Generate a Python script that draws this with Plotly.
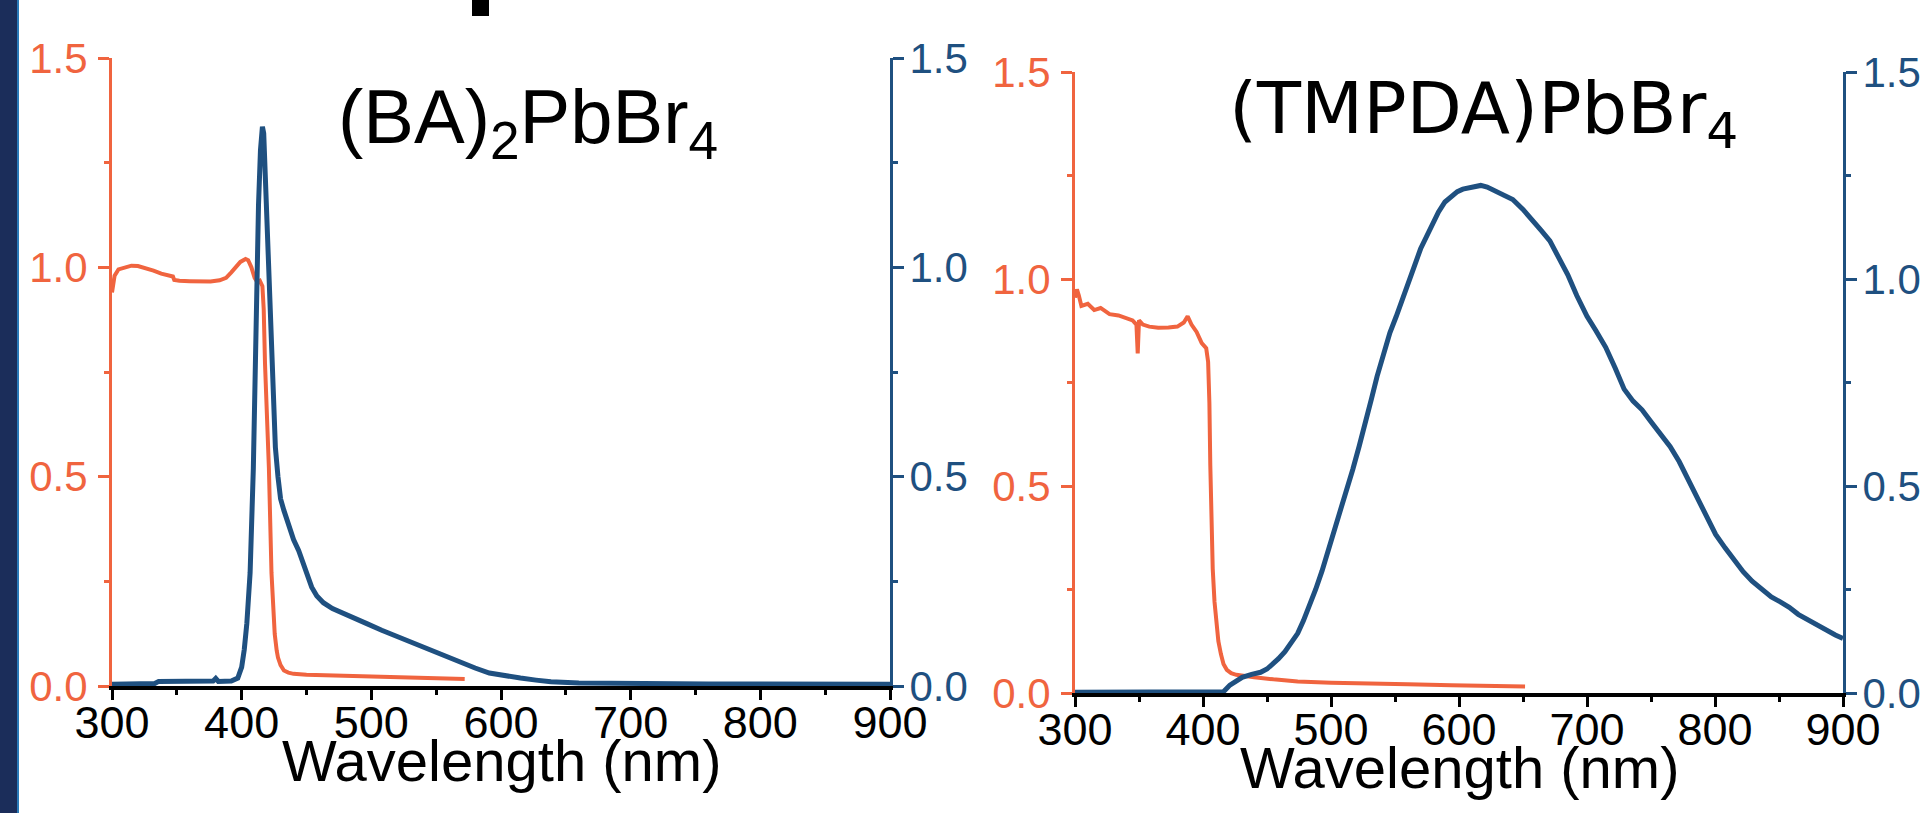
import plotly.graph_objects as go

# ---------------- data ----------------
# (BA)2PbBr4 absorption (left axis)
ba_abs_wl = [300, 302, 305, 310, 315, 320, 326, 332, 338, 344, 347, 348, 352, 360, 369, 376,
             383, 388, 392, 396, 399, 403, 405, 407.5, 410, 412, 414, 416, 417, 418, 419.5,
             421, 423, 424.5, 425.5, 427, 428, 430, 432.6, 436, 440, 450, 473, 500, 520, 545, 572]
ba_abs = [0.94, 0.98, 0.995, 1.0, 1.004, 1.003, 0.998, 0.992, 0.985, 0.98, 0.978, 0.97, 0.968,
          0.967, 0.966, 0.966, 0.969, 0.975, 0.988, 1.003, 1.013, 1.02, 1.017, 1.0, 0.975, 0.965,
          0.968, 0.955, 0.9, 0.77, 0.64, 0.52, 0.27, 0.17, 0.124, 0.085, 0.068, 0.05, 0.037,
          0.032, 0.029, 0.027, 0.025, 0.023, 0.021, 0.019, 0.017]

# (BA)2PbBr4 photoluminescence (right axis)
ba_pl_wl = [300, 320, 333, 336, 350, 365, 378, 380, 382, 392, 397, 400, 402, 404, 406.5, 409,
            411, 413, 414.5, 416, 417, 418, 419.5, 421, 423, 424.5, 426, 428, 430, 432.5, 435,
            440, 444, 449, 454, 458, 463, 470, 477.5, 487, 496.5, 508, 520, 532, 544, 556,
            567.5, 580, 591, 603, 615, 627, 638.5, 660, 686, 720, 760, 800, 850, 900]
ba_pl = [0.004, 0.005, 0.006, 0.011, 0.011, 0.010, 0.012, 0.018, 0.011, 0.012, 0.019, 0.045,
         0.087, 0.15, 0.27, 0.52, 0.89, 1.15, 1.28, 1.336, 1.32, 1.23, 1.12, 1.02, 0.77, 0.65,
         0.57, 0.50, 0.447, 0.42, 0.395, 0.35, 0.323, 0.28, 0.236, 0.215, 0.199, 0.185, 0.174,
         0.162, 0.149, 0.133, 0.118, 0.102, 0.087, 0.071, 0.056, 0.043, 0.031, 0.024, 0.019,
         0.014, 0.010, 0.007, 0.006, 0.005, 0.005, 0.005, 0.004, 0.004]

# (TMPDA)PbBr4 absorption (left axis)
tm_abs_wl = [300, 301.5, 303, 305, 310, 315, 320, 327, 334, 340, 345, 348, 349, 350, 353, 358,
             365, 373, 380, 385, 388, 391, 395, 399, 402.5, 404, 405, 405.7, 406.5, 407.6, 409,
             410.5, 412, 414, 416, 418.6, 422, 426, 433, 440, 455, 474, 500, 522, 560, 594,
             625, 651.6]
tm_abs = [0.955, 0.975, 0.96, 0.935, 0.94, 0.925, 0.93, 0.915, 0.912, 0.905, 0.90, 0.89, 0.82,
          0.90, 0.89, 0.885, 0.882, 0.883, 0.885, 0.895, 0.91, 0.89, 0.872, 0.845, 0.833, 0.80,
          0.70, 0.55, 0.42, 0.30, 0.22, 0.17, 0.125, 0.094, 0.07, 0.056, 0.048, 0.044, 0.04,
          0.038, 0.033, 0.028, 0.025, 0.023, 0.021, 0.019, 0.018, 0.016]

# (TMPDA)PbBr4 photoluminescence (right axis)
tm_pl_wl = [300, 350, 400, 416, 421, 426, 430.6, 438, 445, 450, 454.6, 459, 464, 469, 474,
            478.5, 483.5, 488, 493, 498, 502.7, 507, 512, 517, 522, 526.5, 531.5, 536, 541,
            546, 551, 556, 560.6, 565, 570, 575, 579.5, 584, 589, 594, 598.7, 603, 608, 612,
            617, 622, 627.6, 635, 642, 650, 656.7, 664, 671, 678, 685, 692, 700, 707, 714.6,
            722, 729, 736, 743, 750, 757, 765, 772, 779, 786, 793, 800.5, 808, 815, 822, 829,
            837, 844, 851, 858, 865, 872.6, 880, 887, 894, 900]
tm_pl = [0.002, 0.002, 0.002, 0.003, 0.019, 0.03, 0.038, 0.045, 0.05, 0.058, 0.069, 0.083,
         0.10, 0.12, 0.144, 0.175, 0.213, 0.25, 0.295, 0.345, 0.395, 0.44, 0.483, 0.54, 0.596,
         0.655, 0.709, 0.765, 0.822, 0.87, 0.91, 0.95, 0.99, 1.03, 1.073, 1.105, 1.136, 1.162,
         1.186, 1.20, 1.211, 1.217, 1.221, 1.224, 1.226, 1.222, 1.214, 1.205, 1.192, 1.168,
         1.142, 1.118, 1.092, 1.052, 1.01, 0.96, 0.91, 0.875, 0.835, 0.785, 0.734, 0.705,
         0.684, 0.655, 0.628, 0.595, 0.559, 0.515, 0.471, 0.427, 0.383, 0.35, 0.32, 0.293,
         0.27, 0.25, 0.232, 0.22, 0.207, 0.19, 0.176, 0.163, 0.151, 0.14, 0.132]

x_ticks = [300, 400, 500, 600, 700, 800, 900]
y_ticks = [0.0, 0.5, 1.0, 1.5]
titles = ["(BA)<sub>2</sub>PbBr<sub>4</sub>", "(TMPDA)PbBr<sub>4</sub>"]
x_title = "Wavelength (nm)"

# ---------------- styling ----------------
W, H = 1922, 813
ORANGE = "#F0643F"
BLUE = "#1F5080"
TICK_FONT = "Liberation Sans, Arial, sans-serif"


def px_x(p):
    return p / W


def px_y(p):
    return (H - p) / H


fig = go.Figure()
fig.add_trace(go.Scatter(x=ba_abs_wl, y=ba_abs, xaxis="x", yaxis="y", mode="lines",
                         line=dict(color=ORANGE, width=4)))
fig.add_trace(go.Scatter(x=ba_pl_wl, y=ba_pl, xaxis="x", yaxis="y2", mode="lines",
                         line=dict(color=BLUE, width=5)))
fig.add_trace(go.Scatter(x=tm_abs_wl, y=tm_abs, xaxis="x2", yaxis="y3", mode="lines",
                         line=dict(color=ORANGE, width=4)))
fig.add_trace(go.Scatter(x=tm_pl_wl, y=tm_pl, xaxis="x2", yaxis="y4", mode="lines",
                         line=dict(color=BLUE, width=5)))


def xax(domain, anchor):
    return dict(domain=domain, anchor=anchor, range=[300, 900], tickvals=x_ticks,
                showline=True, linecolor="black", linewidth=3.5, ticks="outside",
                ticklen=10, tickwidth=3, tickcolor="black", ticklabelstandoff=-16,
                minor=dict(dtick=50, ticks="outside", ticklen=5, tickwidth=3, tickcolor="black"),
                tickfont=dict(family=TICK_FONT, size=45, color="black"),
                showgrid=False, zeroline=False, fixedrange=True, automargin=False)


def yax(domain, anchor, color, side, overlaying=None):
    d = dict(domain=domain, anchor=anchor, range=[0, 1.5], tickvals=y_ticks, tickformat=".1f",
             showline=True, linecolor=color, linewidth=3, ticks="outside", ticklen=11,
             tickwidth=3, tickcolor=color, side=side,
             ticklabelstandoff=(2 if side == "left" else -3),
             minor=dict(dtick=0.25, ticks="outside", ticklen=5, tickwidth=3, tickcolor=color),
             tickfont=dict(family=TICK_FONT, size=42, color=color),
             showgrid=False, zeroline=False, fixedrange=True, automargin=False)
    if overlaying:
        d["overlaying"] = overlaying
    return d


left_x = [px_x(112), px_x(890)]
left_y = [px_y(686), px_y(58)]
right_x = [px_x(1075), px_x(1843)]
right_y = [px_y(693), px_y(72)]

fig.update_layout(
    width=W, height=H, autosize=False,
    margin=dict(l=0, r=0, t=0, b=0, pad=0, autoexpand=False),
    paper_bgcolor="white", plot_bgcolor="rgba(0,0,0,0)",
    showlegend=False,
    xaxis=xax(left_x, "y"),
    yaxis=yax(left_y, "x", ORANGE, "left"),
    yaxis2=yax(left_y, "x", BLUE, "right", overlaying="y"),
    xaxis2=xax(right_x, "y3"),
    yaxis3=yax(right_y, "x2", ORANGE, "left"),
    yaxis4=yax(right_y, "x2", BLUE, "right", overlaying="y3"),
    shapes=[
        dict(type="rect", xref="paper", yref="paper", x0=0, x1=px_x(17), y0=0, y1=1,
             fillcolor="#1B2D5A", line=dict(width=0), layer="above"),
        dict(type="rect", xref="paper", yref="paper", x0=px_x(17), x1=px_x(19), y0=0, y1=1,
             fillcolor="#2A7AB8", line=dict(width=0), layer="above"),
        dict(type="rect", xref="paper", yref="paper", x0=px_x(472), x1=px_x(489),
             y0=px_y(16), y1=1, fillcolor="black", line=dict(width=0), layer="above"),
    ],
    annotations=[
        dict(text=titles[0], xref="paper", yref="paper", x=px_x(336), y=px_y(72),
             xanchor="left", yanchor="top", showarrow=False,
             font=dict(family="Liberation Sans, Arial, sans-serif", size=76, color="black")),
        dict(text=titles[1], xref="paper", yref="paper", x=px_x(1227), y=px_y(64),
             xanchor="left", yanchor="top", showarrow=False,
             font=dict(family="DejaVu Sans, Verdana, sans-serif", size=72, color="black")),
        dict(text=x_title, xref="paper", yref="paper", x=(left_x[0] + left_x[1]) / 2,
             y=px_y(726), xanchor="center", yanchor="top", showarrow=False,
             font=dict(family=TICK_FONT, size=58, color="black")),
        dict(text=x_title, xref="paper", yref="paper", x=(right_x[0] + right_x[1]) / 2,
             y=px_y(733), xanchor="center", yanchor="top", showarrow=False,
             font=dict(family=TICK_FONT, size=58, color="black")),
    ],
)

fig.write_html("out.html", config={"displayModeBar": False},
               post_script="document.body.style.margin='0';document.body.style.overflow='hidden';")
